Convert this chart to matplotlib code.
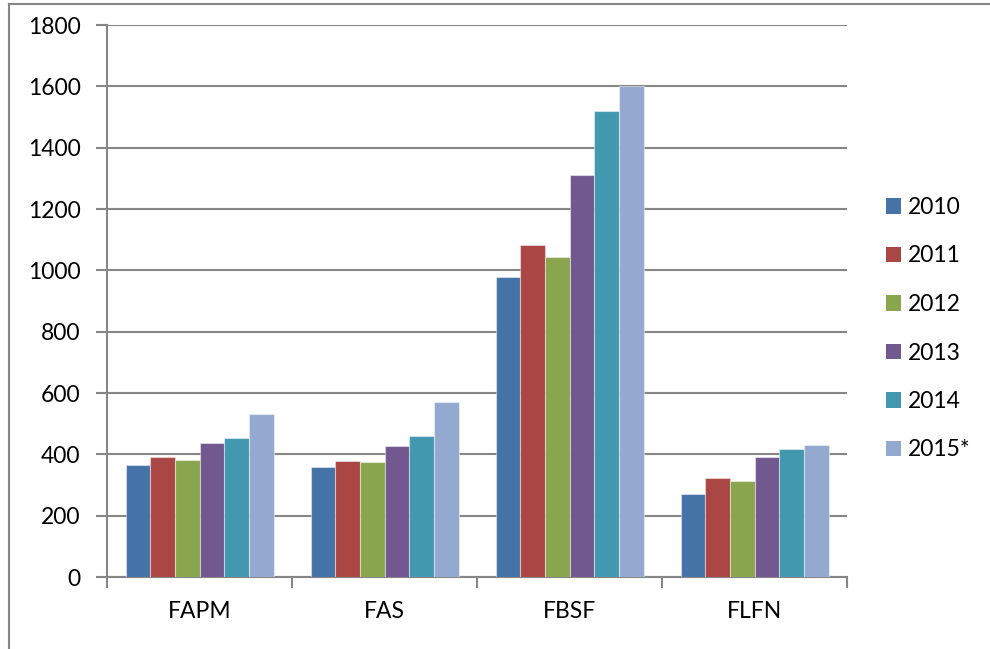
import matplotlib
matplotlib.use("Agg")
import matplotlib.pyplot as plt
from matplotlib.lines import Line2D
from matplotlib.patches import Patch
import numpy as np

categories = ["FAPM", "FAS", "FBSF", "FLFN"]
years = ["2010", "2011", "2012", "2013", "2014", "2015*"]
v2010 = [365, 359, 978, 271]
v2011 = [391, 378, 1081, 323]
v2012 = [381, 374, 1042, 312]
v2013 = [437, 427, 1310, 392]
v2014 = [453, 460, 1519, 418]
v2015 = [532, 571, 1600, 431]
series = [v2010, v2011, v2012, v2013, v2014, v2015]
colors = ["#4572A7", "#AA4643", "#89A54E", "#71588F", "#4198AF", "#93A9CF"]
yticks = [0, 200, 400, 600, 800, 1000, 1200, 1400, 1600, 1800]

plt.rcParams['font.family'] = ['Lato', 'DejaVu Sans']

fig = plt.figure(figsize=(9.9, 6.49), dpi=100)
W, H = 990, 649
x0, x1, ytop, ybot = 107, 847, 25, 577
ax = fig.add_axes([x0 / W, (H - ybot) / H, (x1 - x0) / W, (ybot - ytop) / H])

n = len(series)
bw = 1.0 / (n + 1.5)
x = np.arange(len(categories))
for i, (vals, c, lab) in enumerate(zip(series, colors, years)):
    offs = (i - (n - 1) / 2) * bw
    ax.bar(x + offs, vals, width=bw, color=c, label=lab,
           edgecolor=(1, 1, 1, 0.45), linewidth=0.8, zorder=3)

ax.set_xlim(-0.5, len(categories) - 0.5)
ax.set_ylim(0, 1800)
ax.set_yticks(yticks)
ax.set_yticklabels([str(t) for t in yticks], fontsize=16.5)
ax.set_xticks(x)
ax.set_xticklabels(categories, fontsize=16.5)
ax.set_xticks(np.arange(-0.5, len(categories)), minor=True)
ax.tick_params(axis='x', which='major', length=0, pad=17)
ax.tick_params(axis='x', which='minor', length=8, width=1.5, color="#868686")
ax.tick_params(axis='y', length=8, width=1.5, color="#868686", pad=11)
ax.yaxis.grid(True, color="#868686", linewidth=1.5, zorder=0)
ax.set_axisbelow(True)
for s in ["top", "right"]:
    ax.spines[s].set_visible(False)
for s in ["left", "bottom"]:
    ax.spines[s].set_color("#868686")
    ax.spines[s].set_linewidth(1.5)

handles = [Patch(facecolor=c, edgecolor='none') for c in colors]
leg = fig.legend(handles, years, loc='upper left',
                 bbox_to_anchor=(886 / W, (H - 197) / H),
                 frameon=False, fontsize=16.5, handlelength=0.64,
                 handleheight=0.64, handletextpad=0.33,
                 labelspacing=1.2, borderpad=0, borderaxespad=0)

# outer border (left and top)
fig.add_artist(Line2D([8.5 / W, 8.5 / W], [0, (H - 4) / H], transform=fig.transFigure,
                      color="#868686", linewidth=1.5))
fig.add_artist(Line2D([8.5 / W, 1], [(H - 4) / H, (H - 4) / H], transform=fig.transFigure,
                      color="#868686", linewidth=1.5))

fig.savefig("out.png", dpi=100)
